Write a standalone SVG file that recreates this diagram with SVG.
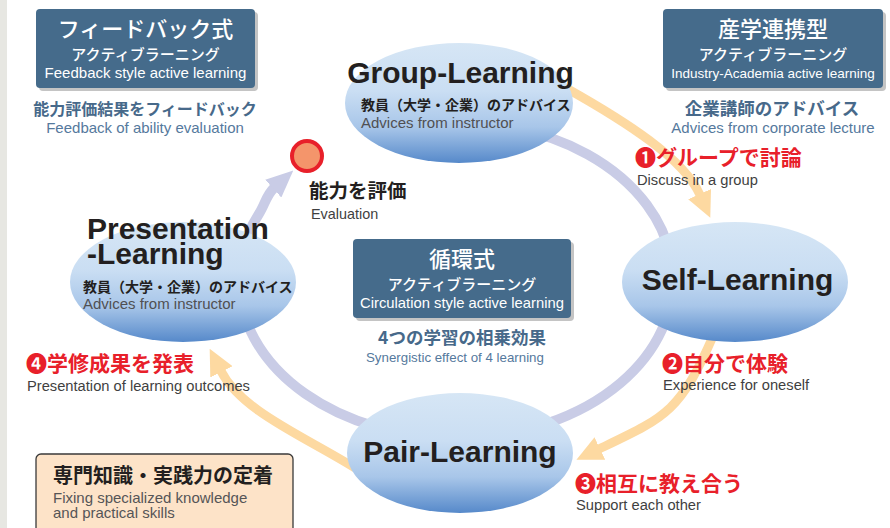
<svg xmlns="http://www.w3.org/2000/svg" width="890" height="528" viewBox="0 0 890 528">
<defs>
<linearGradient id="eg" x1="0" y1="0" x2="0" y2="1">
<stop offset="0" stop-color="#d6e6f5"/>
<stop offset="0.4" stop-color="#cadef3"/>
<stop offset="0.7" stop-color="#a8c6e9"/>
<stop offset="1" stop-color="#5689ca"/>
</linearGradient>
<marker id="ah-o" markerUnits="userSpaceOnUse" markerWidth="26" markerHeight="25" viewBox="0 0 26 25" refX="1" refY="12.5" orient="auto"><path d="M0,0 L26,12.5 L0,25 z" fill="#fdd9a1"/></marker>
<marker id="ah-g" markerUnits="userSpaceOnUse" markerWidth="27" markerHeight="24" viewBox="0 0 27 24" refX="1" refY="12" orient="auto"><path d="M0,0 L27,12 L0,24 z" fill="#c9cce6"/></marker>
</defs>
<style>
.bg{fill:#ffffff}
.strip{fill:#e7e7e2}
.box{fill:#456b8b}
.shadow{fill:#c4c4c4}
.node{fill:url(#eg)}
.ring{fill:none;stroke:#c9cce6;stroke-width:10}
.orange{fill:none;stroke:#fdd9a1;stroke-width:9}
.en{font-family:"Liberation Sans",Arial,sans-serif}
.jp{font-family:"Noto Sans CJK JP","Noto Sans CJK SC",sans-serif}
.title{font-family:"Liberation Sans",Arial,sans-serif;font-weight:700;font-size:30px;fill:#231f20}
.sub{font-family:"Noto Sans CJK JP",sans-serif;font-weight:700;font-size:14px;fill:#231f20}
.subEn{font-family:"Liberation Sans",Arial,sans-serif;font-size:15px;fill:#505052}
.wt{fill:#ffffff;text-anchor:middle}
.slate{fill:#47698a;font-weight:700;text-anchor:middle}
.slateEn{fill:#55799d;text-anchor:middle}
.red{font-family:"Noto Sans CJK JP","DejaVu Sans",sans-serif;font-weight:700;font-size:21px;fill:#e8202a}
.gray{font-family:"Liberation Sans",Arial,sans-serif;font-size:14.7px;fill:#3f3f41}
</style>
<rect class="bg" x="0" y="0" width="890" height="528"/>
<rect class="strip" x="0" y="0" width="7" height="528"/>

<g id="connectors">
<path id="ring" class="ring" d="M512.2,127.4 A217 158 0 1 1 259.3,213.2 C264.7,204.8 266.6,194.7 274,188" marker-end="url(#ah-g)"/>
<path id="arrow-group-self" class="orange" d="M566,88 C627,122.3 683.6,158.6 700,195" marker-end="url(#ah-o)"/>
<path id="arrow-self-pair" class="orange" d="M714,334 C680,412.2 666.5,416.75 599,449" marker-end="url(#ah-o)"/>
<path id="arrow-pair-presentation" class="orange" d="M355,468 C304,436.2 241.3,411 221,371" marker-end="url(#ah-o)"/>
</g>

<g id="box-feedback">
<rect class="shadow" x="39" y="12" width="219" height="79" rx="4"/>
<rect class="box" x="36" y="9" width="219" height="79" rx="4"/>
<text class="jp wt" x="145.5" y="37" font-size="22" font-weight="500">フィードバック式</text>
<text class="jp wt" x="145.5" y="59.5" font-size="15" font-weight="500">アクティブラーニング</text>
<text class="en wt" x="145.5" y="77.5" font-size="15">Feedback style active learning</text>
<text class="jp slate" x="145" y="115" font-size="16">能力評価結果をフィードバック</text>
<text class="en slateEn" x="145" y="133" font-size="15">Feedback of ability evaluation</text>
</g>

<g id="box-industry">
<rect class="shadow" x="666" y="12" width="220" height="79" rx="4"/>
<rect class="box" x="663" y="9" width="220" height="79" rx="4"/>
<text class="jp wt" x="773" y="37" font-size="22" font-weight="500">産学連携型</text>
<text class="jp wt" x="773" y="59.5" font-size="15" font-weight="500">アクティブラーニング</text>
<text class="en wt" x="773" y="77.5" font-size="13.5">Industry-Academia active learning</text>
<text class="jp slate" x="772" y="115" font-size="17.5">企業講師のアドバイス</text>
<text class="en slateEn" x="773" y="133" font-size="15">Advices from corporate lecture</text>
</g>

<g id="box-circulation">
<rect class="shadow" x="356" y="242" width="218" height="79" rx="4"/>
<rect class="box" x="353" y="239" width="218" height="79" rx="4"/>
<text class="jp wt" x="462" y="267" font-size="22" font-weight="500">循環式</text>
<text class="jp wt" x="462" y="289.5" font-size="15" font-weight="500">アクティブラーニング</text>
<text class="en wt" x="462" y="307.5" font-size="14.8">Circulation style active learning</text>
<text class="jp slate" x="462" y="344" font-size="17.5">4つの学習の相乗効果</text>
<text class="en" x="366" y="362" font-size="13.3" fill="#55799d">Synergistic effect of 4 learning</text>
</g>

<g id="node-group">
<ellipse class="node" cx="459" cy="103" rx="114" ry="60"/>
<text class="title" x="460.5" y="83" text-anchor="middle">Group-Learning</text>
<text class="sub" x="361" y="110">教員（大学・企業）のアドバイス</text>
<text class="subEn" x="361" y="127.5">Advices from instructor</text>
</g>

<g id="node-self">
<ellipse class="node" cx="735" cy="282" rx="113" ry="60"/>
<text class="title" x="737.5" y="290" text-anchor="middle">Self-Learning</text>
</g>

<g id="node-pair">
<ellipse class="node" cx="460" cy="453" rx="113" ry="60"/>
<text class="title" x="460" y="462" text-anchor="middle">Pair-Learning</text>
</g>

<g id="node-presentation">
<ellipse class="node" cx="183" cy="282" rx="113" ry="60"/>
<text class="title" x="87" y="239">Presentation</text>
<text class="title" x="87" y="264">-Learning</text>
<text class="sub" x="83" y="291.5">教員（大学・企業）のアドバイス</text>
<text class="subEn" x="83" y="308.5">Advices from instructor</text>
</g>

<g id="node-evaluation">
<circle cx="307" cy="156" r="15" fill="#f4956b" stroke="#e8202a" stroke-width="4"/>
<text class="jp" x="309" y="198" font-size="19.5" font-weight="700" fill="#231f20">能力を評価</text>
<text class="en" x="311" y="219" font-size="14.4" fill="#3f3f41">Evaluation</text>
</g>

<g id="label-1">
<text class="red" x="635" y="165">❶グループで討論</text>
<text class="gray" x="637" y="185">Discuss in a group</text>
</g>
<g id="label-2">
<text class="red" x="662" y="371">❷自分で体験</text>
<text class="gray" x="663" y="390">Experience for oneself</text>
</g>
<g id="label-3">
<text class="red" x="575" y="491">❸相互に教え合う</text>
<text class="gray" x="576" y="510">Support each other</text>
</g>
<g id="label-4">
<text class="red" x="26" y="371">❹学修成果を発表</text>
<text class="gray" x="27" y="391">Presentation of learning outcomes</text>
</g>

<g id="box-fixing">
<rect x="36" y="454" width="257" height="84" rx="5" fill="#fde3c8" stroke="#3a3a3a" stroke-width="1.3"/>
<text class="jp" x="53" y="483" font-size="20" font-weight="700" fill="#231f20">専門知識・実践力の定着</text>
<text class="en" x="53" y="503" font-size="15" fill="#555557">Fixing specialized knowledge</text>
<text class="en" x="53" y="518" font-size="15" fill="#555557">and practical skills</text>
</g>
</svg>
